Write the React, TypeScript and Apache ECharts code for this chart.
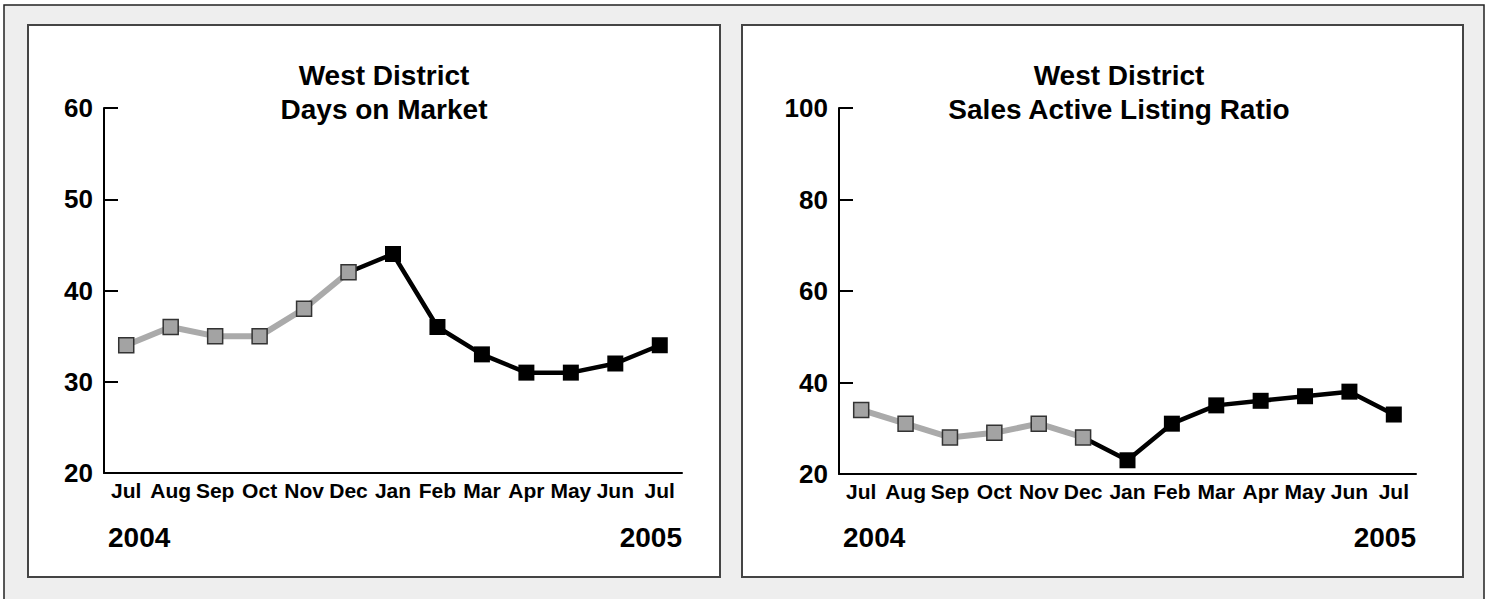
import React, { useEffect, useRef } from "react";
import * as echarts from "echarts";

const months = ["Jul", "Aug", "Sep", "Oct", "Nov", "Dec", "Jan", "Feb", "Mar", "Apr", "May", "Jun", "Jul"];
const domValues = [34, 36, 35, 35, 38, 42, 44, 36, 33, 31, 31, 32, 34];
const salValues = [34, 31, 28, 29, 31, 28, 23, 31, 35, 36, 37, 38, 33];
const splitIndex = 5; // Dec 2004: last point of the gray (2004) segment
const titles = ["West District\nDays on Market", "West District\nSales Active Listing Ratio"];
const yearLabels = ["2004", "2005"];

const FONT = "'Liberation Sans', Arial, Helvetica, sans-serif";

function grayPart(vals: number[]) {
  return vals.map((v, i) => (i <= splitIndex ? v : "-"));
}
function blackPart(vals: number[]) {
  return vals.map((v, i) =>
    i < splitIndex ? "-" : i === splitIndex ? { value: v, symbol: "none" } : v
  );
}

export default function App() {
  const ref = useRef<HTMLDivElement>(null);
  useEffect(() => {
    if (!ref.current) return;
    const chart = echarts.init(ref.current, null, { renderer: "svg" });
    const grids = [
      { left: 104, top: 108, width: 578, height: 365 },
      { left: 839, top: 108, width: 577, height: 366 },
    ];
    const xAxisBase = (gi: number) => ({
      type: "category",
      gridIndex: gi,
      data: months,
      boundaryGap: true,
      axisLine: { lineStyle: { color: "#000", width: 2 } },
      axisTick: { inside: true, length: 8, interval: 0, lineStyle: { color: "#000", width: 2 } },
      axisLabel: { interval: 0, color: "#000", fontSize: 21, fontWeight: "bold", fontFamily: FONT, margin: 7 },
      splitLine: { show: false },
    });
    const yAxisBase = (gi: number, min: number, max: number, interval: number) => ({
      type: "value",
      gridIndex: gi,
      min,
      max,
      interval,
      axisLine: { show: true, lineStyle: { color: "#000", width: 2 } },
      axisTick: { show: true, inside: true, length: 14, lineStyle: { color: "#000", width: 2 } },
      axisLabel: { color: "#000", fontSize: 26, fontWeight: "bold", fontFamily: FONT, margin: 11 },
      splitLine: { show: false },
    });
    const graySeries = (gi: number, vals: number[]) => ({
      type: "line",
      xAxisIndex: gi,
      yAxisIndex: gi,
      data: grayPart(vals),
      z: 4,
      symbol: "rect",
      symbolSize: 15,
      lineStyle: { color: "#aaaaaa", width: 6 },
      itemStyle: { color: "#a3a3a3", borderColor: "#333", borderWidth: 1.5 },
    });
    const blackSeries = (gi: number, vals: number[]) => ({
      type: "line",
      xAxisIndex: gi,
      yAxisIndex: gi,
      data: blackPart(vals),
      z: 3,
      symbol: "rect",
      symbolSize: 16,
      lineStyle: { color: "#000", width: 4.5 },
      itemStyle: { color: "#000", borderColor: "#000", borderWidth: 0 },
    });
    const panels = [
      { x: 28, y: 25, w: 692, h: 552, tx: 384, yl: 108, yr: 682 },
      { x: 742, y: 25, w: 721, h: 552, tx: 1119, yl: 843, yr: 1416 },
    ];
    const graphic: any[] = [
      {
        type: "rect",
        shape: { x: 4, y: 5, width: 1480, height: 620 },
        style: { fill: "#eeeeee", stroke: "#222", lineWidth: 1.5 },
        z: -10,
      },
    ];
    panels.forEach((p, i) => {
      graphic.push({
        type: "rect",
        shape: { x: p.x, y: p.y, width: p.w, height: p.h },
        style: { fill: "#fff", stroke: "#444", lineWidth: 2 },
        z: -9,
      });
      graphic.push({
        type: "text",
        x: p.tx,
        y: 92,
        style: {
          text: titles[i],
          fill: "#000",
          font: `bold 28px ${FONT}`,
          textAlign: "center",
          textVerticalAlign: "middle",
          lineHeight: 34,
        },
      });
      graphic.push({
        type: "text",
        x: p.yl,
        y: 537,
        style: { text: yearLabels[0], fill: "#000", font: `bold 28px ${FONT}`, textAlign: "left", textVerticalAlign: "middle" },
      });
      graphic.push({
        type: "text",
        x: p.yr,
        y: 537,
        style: { text: yearLabels[1], fill: "#000", font: `bold 28px ${FONT}`, textAlign: "right", textVerticalAlign: "middle" },
      });
    });
    chart.setOption({
      animation: false,
      backgroundColor: "#fff",
      grid: grids,
      xAxis: [xAxisBase(0), xAxisBase(1)],
      yAxis: [yAxisBase(0, 20, 60, 10), yAxisBase(1, 20, 100, 20)],
      series: [blackSeries(0, domValues), graySeries(0, domValues), blackSeries(1, salValues), graySeries(1, salValues)],
      graphic,
    });
    return () => chart.dispose();
  }, []);
  return (
    <div
      ref={ref}
      style={{ position: "fixed", left: 0, top: 0, width: 1487, height: 599 }}
    />
  );
}
